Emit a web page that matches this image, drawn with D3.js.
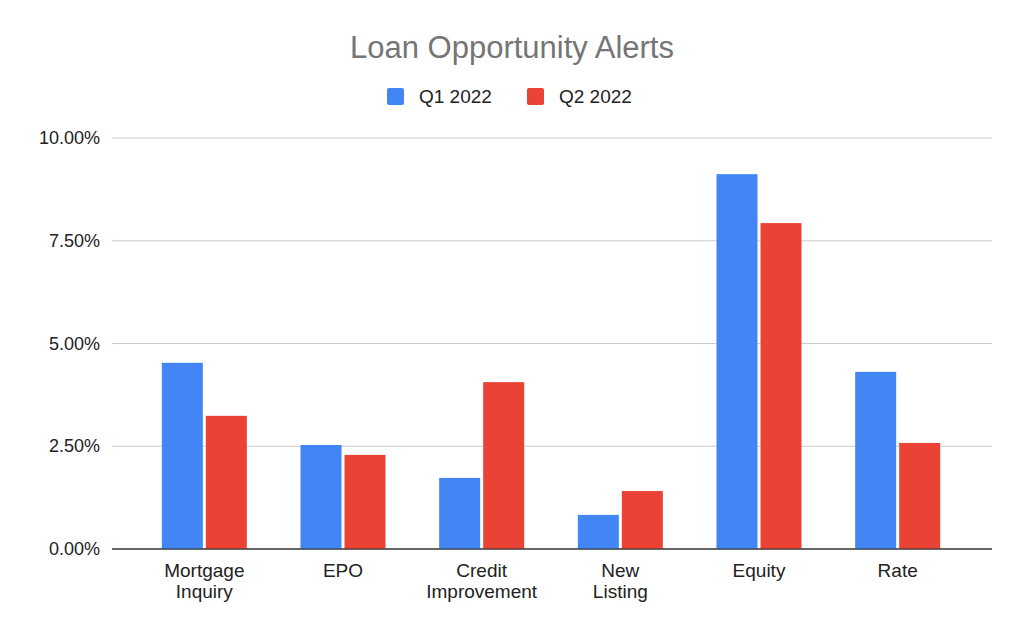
<!DOCTYPE html>
<html><head><meta charset="utf-8">
<script src="https://cdn.jsdelivr.net/npm/d3@7"></script>
<style>body{margin:0;background:#fff}text{font-family:"Liberation Sans",Arial,sans-serif}</style>
</head><body><svg id="c" width="1024" height="633"></svg>
<script>
const categories=[["Mortgage","Inquiry"],["EPO"],["Credit","Improvement"],["New","Listing"],["Equity"],["Rate"]];
const seriesNames=["Q1 2022","Q2 2022"];
const q1=[4.53,2.53,1.73,0.83,9.12,4.31];
const q2=[3.24,2.29,4.06,1.41,7.93,2.58];
const ticks=[0,2.5,5,7.5,10];
const colors=["#4285f4","#ea4335"];
const svg=d3.select("#c");
const L=112,R=992,T=138,B=549;
const y=d3.scaleLinear().domain([0,10]).range([B,T]);
const x=d3.scaleBand().domain(d3.range(6)).range([135,967]);
svg.append("text").attr("x",512).attr("y",58).attr("text-anchor","middle").attr("font-size",31).attr("fill","#757575").text("Loan Opportunity Alerts");
const lg=[[387,"Q1 2022"],[527,"Q2 2022"]];
lg.forEach((d,i)=>{svg.append("rect").attr("x",d[0]).attr("y",88).attr("width",17).attr("height",17).attr("rx",2).attr("fill",colors[i]);
svg.append("text").attr("x",d[0]+32).attr("y",103).attr("font-size",19).attr("fill","#222").text(seriesNames[i]);});
const g=svg.append("g");
ticks.forEach(t=>{g.append("line").attr("x1",L).attr("x2",R).attr("y1",y(t)).attr("y2",y(t)).attr("stroke",t===0?"#333":"#ccc").attr("stroke-width",1);
g.append("text").attr("x",100).attr("y",y(t)+6).attr("text-anchor","end").attr("font-size",18).attr("fill","#222").text(t.toFixed(2)+"%");});
const bw=41,gap=3;
[q1,q2].forEach((s,si)=>{
 s.forEach((v,i)=>{const cx=x(i)+x.bandwidth()/2;
  g.append("rect").attr("x",si===0?cx-gap/2-bw:cx+gap/2).attr("y",y(v)).attr("width",bw).attr("height",B-y(v)).attr("fill",colors[si]);});
});
g.append("line").attr("x1",L).attr("x2",R).attr("y1",B).attr("y2",B).attr("stroke","#333");
categories.forEach((c,i)=>{const cx=x(i)+x.bandwidth()/2;
 c.forEach((l,j)=>svg.append("text").attr("x",cx).attr("y",577+j*21).attr("text-anchor","middle").attr("font-size",19).attr("fill","#222").text(l));});
</script></body></html>
